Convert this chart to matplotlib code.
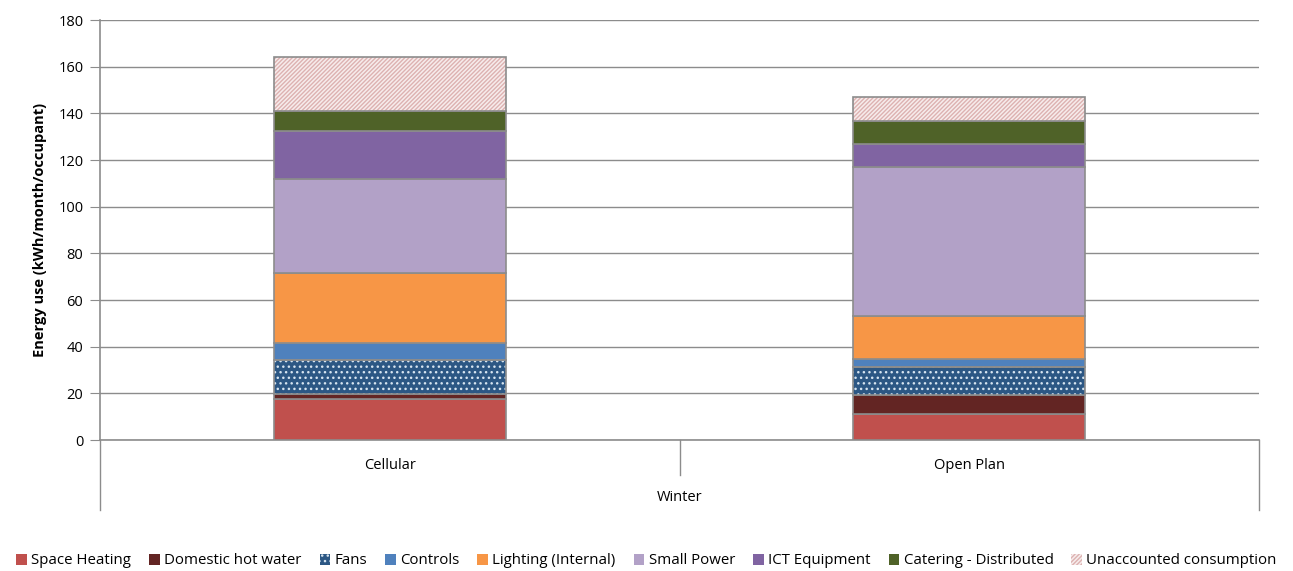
import matplotlib.pyplot as plt
import numpy as np

plt.rcParams['font.family'] = ['Open Sans', 'DejaVu Sans']

# Monthly energy use per occupant, winter
layouts = ['Cellular', 'Open Plan']
season = 'Winter'
end_uses = ['Space Heating', 'Domestic hot water', 'Fans', 'Controls',
            'Lighting (Internal)', 'Small Power', 'ICT Equipment',
            'Catering - Distributed', 'Unaccounted consumption']
cellular = [17.4, 2.2, 14.7, 7.4, 29.7, 40.5, 20.4, 8.8, 23.2]
open_plan = [11.0, 8.3, 11.8, 3.5, 18.7, 63.6, 9.8, 10.2, 10.2]

colors = ['#C0504D', '#632523', '#2C5784', '#4F81BD', '#F79646',
          '#B2A1C7', '#8064A2', '#4F6228', '#F7ECEC']
hatches = [None, None, '...', None, None, None, None, None, '////////']
hatch_colors = [None, None, '#D6E4F0', None, None, None, None, None, '#DDB2B1']

values = np.array([cellular, open_plan]).T
x = np.arange(len(layouts))
grey = '#8C8C8C'

fig = plt.figure(figsize=(12.93, 5.71), dpi=100)
ax = fig.add_axes([100 / 1293, 131 / 571, 1159 / 1293, 420 / 571])

bottom = np.zeros(len(layouts))
handles = []
for i, name in enumerate(end_uses):
    if hatches[i]:
        ax.bar(x, values[i], 0.4, bottom=bottom, color=colors[i],
               hatch=hatches[i], edgecolor=hatch_colors[i], linewidth=0, zorder=3)
        ax.bar(x, values[i], 0.4, bottom=bottom, facecolor='none',
               edgecolor=grey, linewidth=1.2, zorder=4)
        handles.append(plt.Rectangle((0, 0), 1, 1, facecolor=colors[i],
                                     hatch=hatches[i], edgecolor=hatch_colors[i],
                                     linewidth=0, label=name))
    else:
        ax.bar(x, values[i], 0.4, bottom=bottom, color=colors[i],
               edgecolor=grey, linewidth=1.2, zorder=3)
        handles.append(plt.Rectangle((0, 0), 1, 1, facecolor=colors[i],
                                     edgecolor='none', label=name))
    bottom += values[i]

ax.set_xlim(-0.5, len(layouts) - 0.5)
ax.set_ylim(0, 180)
ax.set_yticks(np.arange(0, 181, 20))
ax.yaxis.grid(True, color=grey, linewidth=1)
ax.set_axisbelow(True)
ax.tick_params(axis='y', direction='out', length=7, color=grey, labelsize=10.5, pad=5)
ax.set_xticks([])
for side in ['top', 'right']:
    ax.spines[side].set_visible(False)
for side in ['left', 'bottom']:
    ax.spines[side].set_color(grey)
    ax.spines[side].set_linewidth(1.2)
ax.set_ylabel('Energy use (kWh/month/occupant)', fontweight='bold', fontsize=10.5, labelpad=8)

# two-level category axis: layout labels above the season label
trans = ax.get_xaxis_transform()
for xs, depth in [(-0.5, -0.167), (0.5, -0.083), (1.5, -0.167)]:
    ax.plot([xs, xs], [0, depth], color=grey, linewidth=1, transform=trans, clip_on=False)
for xi, label in zip(x, layouts):
    ax.text(xi, -0.06, label, transform=trans, ha='center', va='center', fontsize=10.5)
ax.text(0.5, -0.136, season, transform=trans, ha='center', va='center', fontsize=10.5)

fig.legend(handles=handles, loc='center', bbox_to_anchor=(0.5, 10 / 571), ncol=9,
           frameon=False, fontsize=10.8, handlelength=0.7, handleheight=0.7,
           handletextpad=0.3, columnspacing=1.2, borderaxespad=0)

fig.savefig('out.png', dpi=100)
